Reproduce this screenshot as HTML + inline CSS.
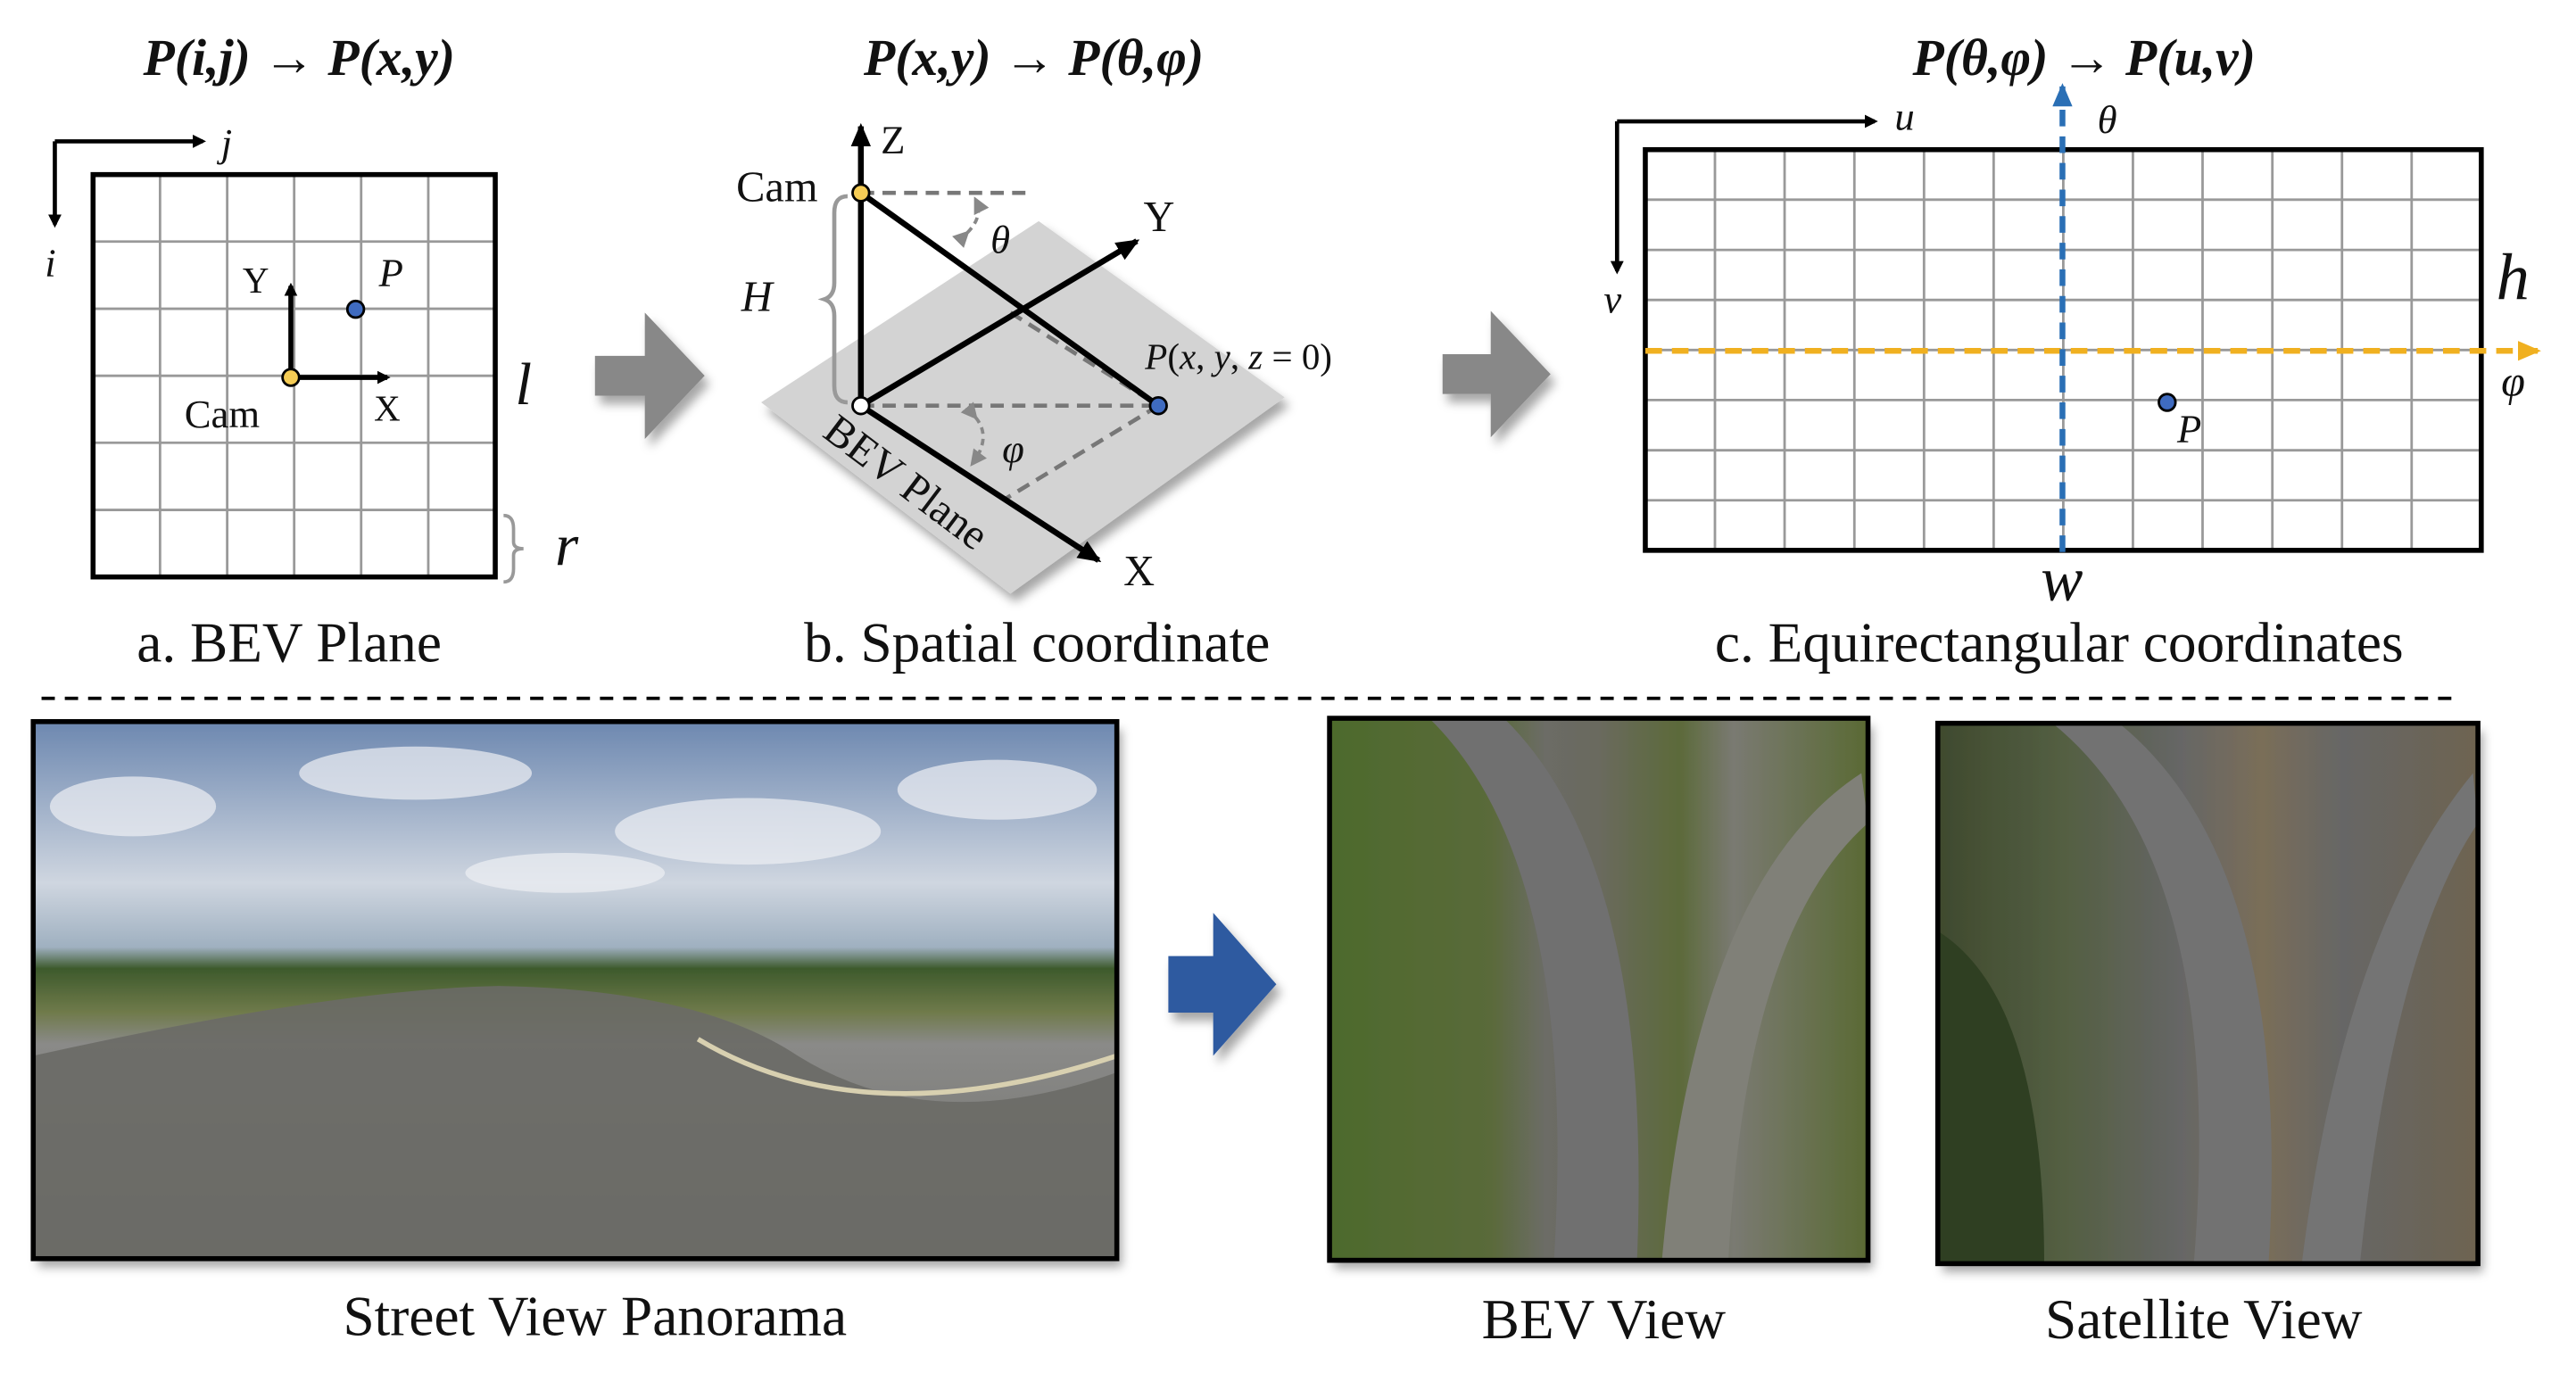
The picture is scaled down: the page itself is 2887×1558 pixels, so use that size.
<!DOCTYPE html>
<html><head><meta charset="utf-8"><style>
html,body{margin:0;padding:0;background:#fff;width:2887px;height:1558px;overflow:hidden}
svg{display:block}
text{font-family:"Liberation Serif",serif;fill:#111}
</style></head><body>
<svg width="2887" height="1558" viewBox="0 0 1550 836" preserveAspectRatio="none" xmlns="http://www.w3.org/2000/svg">
<defs>
<marker id="ah" markerWidth="8" markerHeight="8" refX="6" refY="4" orient="auto" markerUnits="userSpaceOnUse"><path d="M0,0 L8,4 L0,8 z" fill="#000"/></marker>
<marker id="ahs" markerWidth="14" markerHeight="12" refX="12" refY="6" orient="auto" markerUnits="userSpaceOnUse"><path d="M0,0 L14,6 L0,12 z" fill="#000"/></marker>
<marker id="ahg" markerWidth="10" markerHeight="10" refX="8" refY="5" orient="auto" markerUnits="userSpaceOnUse"><path d="M0,0 L10,5 L0,10 z" fill="#888"/></marker>
<marker id="ahb" markerWidth="14" markerHeight="12" refX="12" refY="6" orient="auto" markerUnits="userSpaceOnUse"><path d="M0,0 L14,6 L0,12 z" fill="#2a6fb5"/></marker>
<marker id="aho" markerWidth="14" markerHeight="12" refX="12" refY="6" orient="auto" markerUnits="userSpaceOnUse"><path d="M0,0 L14,6 L0,12 z" fill="#f0b020"/></marker>
<filter id="sh" x="-10%" y="-10%" width="130%" height="130%"><feDropShadow dx="3" dy="5" stdDeviation="3" flood-color="#000" flood-opacity="0.35"/></filter>
<linearGradient id="sky" x1="0" y1="0" x2="0" y2="1">
<stop offset="0" stop-color="#6d88b0"/><stop offset="0.3" stop-color="#cfd6e0"/><stop offset="0.42" stop-color="#9fb0c0"/><stop offset="0.46" stop-color="#3d5a2c"/><stop offset="0.54" stop-color="#6f7a4a"/><stop offset="0.6" stop-color="#8a8a88"/><stop offset="1" stop-color="#6e6e6a"/></linearGradient>
<linearGradient id="bev" x1="0" y1="0" x2="1" y2="0">
<stop offset="0" stop-color="#4d6a2c"/><stop offset="0.3" stop-color="#5a6b3a"/><stop offset="0.4" stop-color="#6c6c66"/><stop offset="0.5" stop-color="#6a6a5e"/><stop offset="0.65" stop-color="#5c6a3a"/><stop offset="0.75" stop-color="#7a7a72"/><stop offset="1" stop-color="#5a6a34"/></linearGradient>
<linearGradient id="sat" x1="0" y1="0" x2="1" y2="0">
<stop offset="0" stop-color="#3f4a2e"/><stop offset="0.25" stop-color="#556044"/><stop offset="0.45" stop-color="#666"/><stop offset="0.6" stop-color="#7a6e58"/><stop offset="0.75" stop-color="#666"/><stop offset="1" stop-color="#6e6450"/></linearGradient>
</defs>

<!-- a -->
<text x="180" y="45" font-size="31" font-weight="bold" font-style="italic" text-anchor="middle">P(i,j) → P(x,y)</text>
<line x1="33" y1="85" x2="33" y2="135" stroke="#000" stroke-width="2.5" marker-end="url(#ah)"/>
<line x1="33" y1="85" x2="122" y2="85" stroke="#000" stroke-width="2.5" marker-end="url(#ah)"/>
<text x="133" y="94" font-size="24" font-style="italic">j</text>
<text x="27" y="166" font-size="24" font-style="italic">i</text>
<g stroke="#999" stroke-width="1.5">
<line x1="96.3" y1="105" x2="96.3" y2="347"/><line x1="136.7" y1="105" x2="136.7" y2="347"/><line x1="177" y1="105" x2="177" y2="347"/><line x1="217.3" y1="105" x2="217.3" y2="347"/><line x1="257.7" y1="105" x2="257.7" y2="347"/>
<line x1="56" y1="145.3" x2="298" y2="145.3"/><line x1="56" y1="185.7" x2="298" y2="185.7"/><line x1="56" y1="226" x2="298" y2="226"/><line x1="56" y1="266.3" x2="298" y2="266.3"/><line x1="56" y1="306.7" x2="298" y2="306.7"/>
</g>
<rect x="56" y="105" width="242" height="242" fill="none" stroke="#000" stroke-width="3"/>
<line x1="175" y1="227" x2="175" y2="172" stroke="#000" stroke-width="3" marker-end="url(#ah)"/>
<line x1="175" y1="227" x2="233" y2="227" stroke="#000" stroke-width="3" marker-end="url(#ah)"/>
<circle cx="175" cy="227" r="5" fill="#f5cc55" stroke="#000" stroke-width="1.5"/>
<circle cx="214" cy="186" r="5" fill="#3f6bc0" stroke="#000" stroke-width="1.5"/>
<text x="146" y="176" font-size="22">Y</text>
<text x="228" y="172" font-size="24" font-style="italic">P</text>
<text x="225" y="253" font-size="22">X</text>
<text x="111" y="257" font-size="24">Cam</text>
<text x="310" y="243" font-size="36" font-style="italic">l</text>
<path d="M303,310 q6,0 6,8 v8 q0,4 6,4 q-6,0 -6,4 v8 q0,8 -6,8" fill="none" stroke="#999" stroke-width="2"/>
<text x="334" y="340" font-size="36" font-style="italic">r</text>
<text x="174" y="398" font-size="34" text-anchor="middle">a. BEV Plane</text>

<!-- gray arrows -->
<path d="M358,214 h30 v-26 l36,38 l-36,38 v-26 h-30 z" fill="#888" filter="url(#sh)"/>
<path d="M868,213 h29 v-26 l36,38 l-36,38 v-26 h-29 z" fill="#888" filter="url(#sh)"/>

<!-- b -->
<text x="622" y="45" font-size="31" font-weight="bold" font-style="italic" text-anchor="middle">P(x,y) → P(θ,φ)</text>
<polygon points="458,242 625,133 773,239 608,357" fill="#d3d3d3" filter="url(#sh)"/>
<line x1="518" y1="244" x2="518" y2="76" stroke="#000" stroke-width="3.5" marker-end="url(#ahs)"/>
<text x="530" y="92" font-size="24">Z</text>
<line x1="518" y1="116" x2="618" y2="116" stroke="#777" stroke-width="2.5" stroke-dasharray="8,5"/>
<line x1="518" y1="244" x2="697" y2="244" stroke="#777" stroke-width="2.5" stroke-dasharray="8,5"/>
<line x1="697" y1="244" x2="605" y2="300" stroke="#777" stroke-width="2.5" stroke-dasharray="8,5"/>
<line x1="608" y1="188" x2="697" y2="244" stroke="#777" stroke-width="2.5" stroke-dasharray="8,5"/>
<line x1="518" y1="116" x2="697" y2="244" stroke="#000" stroke-width="3.5"/>
<line x1="518" y1="244" x2="684" y2="145" stroke="#000" stroke-width="3.5" marker-end="url(#ahs)"/>
<line x1="518" y1="244" x2="661" y2="337" stroke="#000" stroke-width="3.5" marker-end="url(#ahs)"/>
<path d="M582,140 q10,-10 5,-20" fill="none" stroke="#888" stroke-width="2" stroke-dasharray="4,3" marker-start="url(#ahg)" marker-end="url(#ahg)"/>
<path d="M587,251 q10,12 -2,28" fill="none" stroke="#888" stroke-width="2" stroke-dasharray="4,3" marker-start="url(#ahg)" marker-end="url(#ahg)"/>
<circle cx="518" cy="116" r="5" fill="#f5cc55" stroke="#000" stroke-width="1.5"/>
<circle cx="518" cy="244" r="5" fill="#fff" stroke="#000" stroke-width="1.5"/>
<circle cx="697" cy="244" r="5" fill="#3f6bc0" stroke="#000" stroke-width="1.5"/>
<path d="M510,118 q-8,0 -8,10 v42 q0,8 -6,10 q6,2 6,10 v42 q0,10 8,10" fill="none" stroke="#999" stroke-width="2.5"/>
<text x="443" y="121" font-size="26">Cam</text>
<text x="446" y="187" font-size="26" font-style="italic">H</text>
<text x="596" y="152" font-size="24" font-style="italic">θ</text>
<text x="688" y="139" font-size="26">Y</text>
<text x="689" y="222" font-size="22"><tspan font-style="italic">P</tspan>(<tspan font-style="italic">x</tspan>, <tspan font-style="italic">y</tspan>, <tspan font-style="italic">z</tspan> = 0)</text>
<text x="603" y="278" font-size="24" font-style="italic">φ</text>
<text x="676" y="352" font-size="26">X</text>
<text x="0" y="0" font-size="26" transform="translate(494,262) rotate(37)">BEV Plane</text>
<text x="624" y="398" font-size="34" text-anchor="middle">b. Spatial coordinate</text>

<!-- c -->
<text x="1254" y="45" font-size="31" font-weight="bold" font-style="italic" text-anchor="middle">P(θ,φ) → P(u,v)</text>
<line x1="973" y1="73" x2="1128" y2="73" stroke="#000" stroke-width="2.5" marker-end="url(#ah)"/>
<line x1="973" y1="73" x2="973" y2="163" stroke="#000" stroke-width="2.5" marker-end="url(#ah)"/>
<text x="1140" y="78" font-size="24" font-style="italic">u</text>
<text x="965" y="188" font-size="24" font-style="italic">v</text>
<g stroke="#999" stroke-width="1.5">
<line x1="1031.9" y1="90" x2="1031.9" y2="331"/><line x1="1073.8" y1="90" x2="1073.8" y2="331"/><line x1="1115.8" y1="90" x2="1115.8" y2="331"/><line x1="1157.7" y1="90" x2="1157.7" y2="331"/><line x1="1199.6" y1="90" x2="1199.6" y2="331"/><line x1="1241.5" y1="90" x2="1241.5" y2="331"/><line x1="1283.4" y1="90" x2="1283.4" y2="331"/><line x1="1325.3" y1="90" x2="1325.3" y2="331"/><line x1="1367.3" y1="90" x2="1367.3" y2="331"/><line x1="1409.2" y1="90" x2="1409.2" y2="331"/><line x1="1451.1" y1="90" x2="1451.1" y2="331"/>
<line x1="990" y1="120.1" x2="1493" y2="120.1"/><line x1="990" y1="150.3" x2="1493" y2="150.3"/><line x1="990" y1="180.4" x2="1493" y2="180.4"/><line x1="990" y1="210.5" x2="1493" y2="210.5"/><line x1="990" y1="240.6" x2="1493" y2="240.6"/><line x1="990" y1="270.8" x2="1493" y2="270.8"/><line x1="990" y1="300.9" x2="1493" y2="300.9"/>
</g>
<rect x="990" y="90" width="503" height="241" fill="none" stroke="#000" stroke-width="3"/>
<line x1="990" y1="211" x2="1527" y2="211" stroke="#f0b020" stroke-width="3.5" stroke-dasharray="10,6" marker-end="url(#aho)"/>
<line x1="1241" y1="332" x2="1241" y2="52" stroke="#2a6fb5" stroke-width="3.5" stroke-dasharray="10,6" marker-end="url(#ahb)"/>
<circle cx="1304" cy="242" r="5" fill="#3f6bc0" stroke="#000" stroke-width="1.5"/>
<text x="1310" y="266" font-size="24" font-style="italic">P</text>
<text x="1262" y="80" font-size="24" font-style="italic">θ</text>
<text x="1502" y="180" font-size="40" font-style="italic">h</text>
<text x="1505" y="238" font-size="26" font-style="italic">φ</text>
<text x="1228" y="361" font-size="38" font-style="italic">w</text>
<text x="1239" y="398" font-size="34" text-anchor="middle">c. Equirectangular coordinates</text>

<line x1="25" y1="420" x2="1481" y2="420" stroke="#000" stroke-width="2" stroke-dasharray="8,6"/>

<!-- panorama -->
<g filter="url(#sh)">
<rect x="20" y="434" width="652" height="323" fill="url(#sky)"/>
</g>
<g fill="#eef0f4" opacity="0.7">
<ellipse cx="80" cy="485" rx="50" ry="18"/><ellipse cx="250" cy="465" rx="70" ry="16"/><ellipse cx="450" cy="500" rx="80" ry="20"/><ellipse cx="600" cy="475" rx="60" ry="18"/><ellipse cx="340" cy="525" rx="60" ry="12"/>
</g>
<path d="M20,635 Q200,595 300,593 Q420,595 480,635 Q560,685 672,645 L672,757 L20,757 z" fill="#6a6a66" opacity="0.9"/>
<path d="M420,625 Q520,685 672,635" fill="none" stroke="#d8d0b0" stroke-width="3"/>
<rect x="20" y="434" width="652" height="323" fill="none" stroke="#000" stroke-width="3"/>
<path d="M703,575 h27 v-26 l38,43 l-38,43 v-26 h-27 z" fill="#2f5aa0" filter="url(#sh)"/>
<!-- BEV -->
<g filter="url(#sh)"><rect x="800" y="432" width="324" height="326" fill="url(#bev)"/></g>
<path d="M860,432 Q950,520 935,758 L985,758 Q995,520 905,432 z" fill="#707070"/>
<path d="M1120,465 Q1020,530 1000,758 L1040,758 Q1050,560 1124,495 z" fill="#808078"/>
<rect x="800" y="432" width="324" height="326" fill="none" stroke="#000" stroke-width="3"/>
<!-- Satellite -->
<g filter="url(#sh)"><rect x="1166" y="435" width="325" height="325" fill="url(#sat)"/></g>
<path d="M1235,435 Q1340,520 1320,760 L1365,760 Q1380,520 1275,435 z" fill="#727272"/>
<path d="M1488,465 Q1410,560 1385,760 L1420,760 Q1440,570 1491,495 z" fill="#747474"/>
<path d="M1166,560 Q1230,600 1230,760 L1166,760 z" fill="#2f3f22"/>
<rect x="1166" y="435" width="325" height="325" fill="none" stroke="#000" stroke-width="3"/>

<text x="358" y="803" font-size="34" text-anchor="middle">Street View Panorama</text>
<text x="965" y="805" font-size="34" text-anchor="middle">BEV View</text>
<text x="1326" y="805" font-size="34" text-anchor="middle">Satellite View</text>
</svg>
</body></html>
